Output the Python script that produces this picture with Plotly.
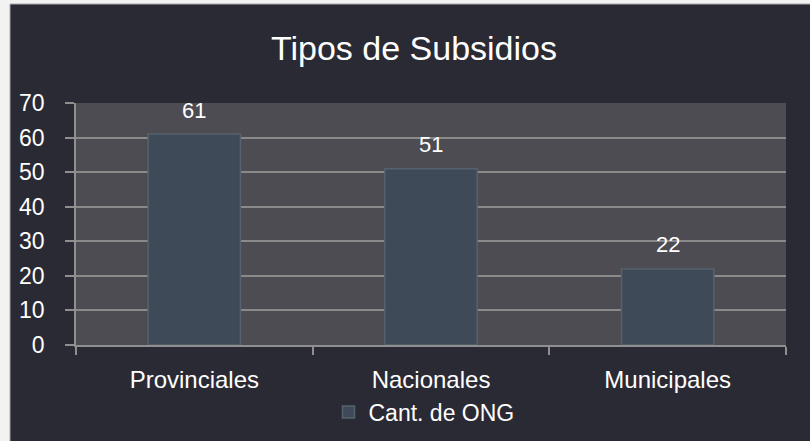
import plotly.graph_objects as go

categories = ["Provinciales", "Nacionales", "Municipales"]
values = [61, 51, 22]
series_name = "Cant. de ONG"
title_text = "Tipos de Subsidios"
y_ticks = [0, 10, 20, 30, 40, 50, 60, 70]

W, H = 810, 441
ML, MR, MT, MB = 76, 24, 103, 96
PW, PH = W - ML - MR, H - MT - MB

def px_x(p):
    return (p - ML) / PW

def px_y(p):
    return (H - MB - p) / PH

FONT = "Liberation Sans, Arial, sans-serif"
BG = "#2a2a34"
PLOT_BG = "#4d4c52"
BAR = "#3e4a57"
GRID = "#8a8a8a"
EDGE = "#f2f2f2"

fig = go.Figure()
fig.add_trace(go.Bar(
    x=categories, y=values, name=series_name,
    marker=dict(color=BAR, line=dict(color="#56626e", width=1.5)),
    showlegend=True,
))

for c, v in zip(categories, values):
    fig.add_annotation(x=c, y=v, xref="x", yref="y", text=str(v), showarrow=False,
                       yanchor="middle", yshift=24,
                       font=dict(family=FONT, size=22, color="white"))

# light strips outside the chart frame (left and top)
fig.add_shape(type="rect", xref="paper", yref="paper", layer="above",
              x0=px_x(-5), x1=px_x(10), y0=px_y(H + 5), y1=px_y(-5),
              fillcolor=EDGE, line=dict(width=0))
fig.add_shape(type="rect", xref="paper", yref="paper", layer="above",
              x0=px_x(-5), x1=px_x(W + 5), y0=px_y(4), y1=px_y(-5),
              fillcolor=EDGE, line=dict(width=0))
fig.add_shape(type="line", xref="paper", yref="paper", layer="above",
              x0=px_x(10), x1=px_x(W + 5), y0=px_y(4), y1=px_y(4),
              line=dict(color="#a8a8a8", width=1))
fig.add_shape(type="line", xref="paper", yref="paper", layer="above",
              x0=px_x(10), x1=px_x(10), y0=px_y(4), y1=px_y(H + 5),
              line=dict(color="#a8a8a8", width=1))

fig.update_layout(
    width=W, height=H,
    margin=dict(l=ML, r=MR, t=MT, b=MB, pad=0, autoexpand=False),
    paper_bgcolor=BG,
    plot_bgcolor=PLOT_BG,
    bargap=0.61,
    title=dict(text=title_text, x=414 / W, xanchor="center", y=1 - 48 / H, yanchor="middle",
               font=dict(family=FONT, size=34, color="white")),
    font=dict(family=FONT, color="white"),
    legend=dict(orientation="h", xref="container", yref="container",
                x=424 / W, xanchor="center", y=1 - 412 / H, yanchor="middle",
                font=dict(family=FONT, size=23, color="white"), bgcolor="rgba(0,0,0,0)"),
    xaxis=dict(showgrid=False, showline=True, linecolor="#8f8f8f", linewidth=1.5,
               ticks="outside", tickson="boundaries", ticklen=8, tickcolor="#8f8f8f", tickwidth=1.5,
               tickfont=dict(family=FONT, size=24, color="white"), ticklabelstandoff=12,
               zeroline=False),
    yaxis=dict(range=[0, 70], tickvals=y_ticks, showgrid=True, gridcolor=GRID, gridwidth=1.5,
               showline=True, linecolor="#8f8f8f", linewidth=1.5, ticks="outside", ticklen=9,
               tickcolor="#8f8f8f", tickwidth=1.5, zeroline=False,
               tickfont=dict(family=FONT, size=23, color="white"), ticklabelstandoff=16),
)

fig.write_html("out.html", config={"displayModeBar": False},
               post_script="document.body.style.margin='0';")
